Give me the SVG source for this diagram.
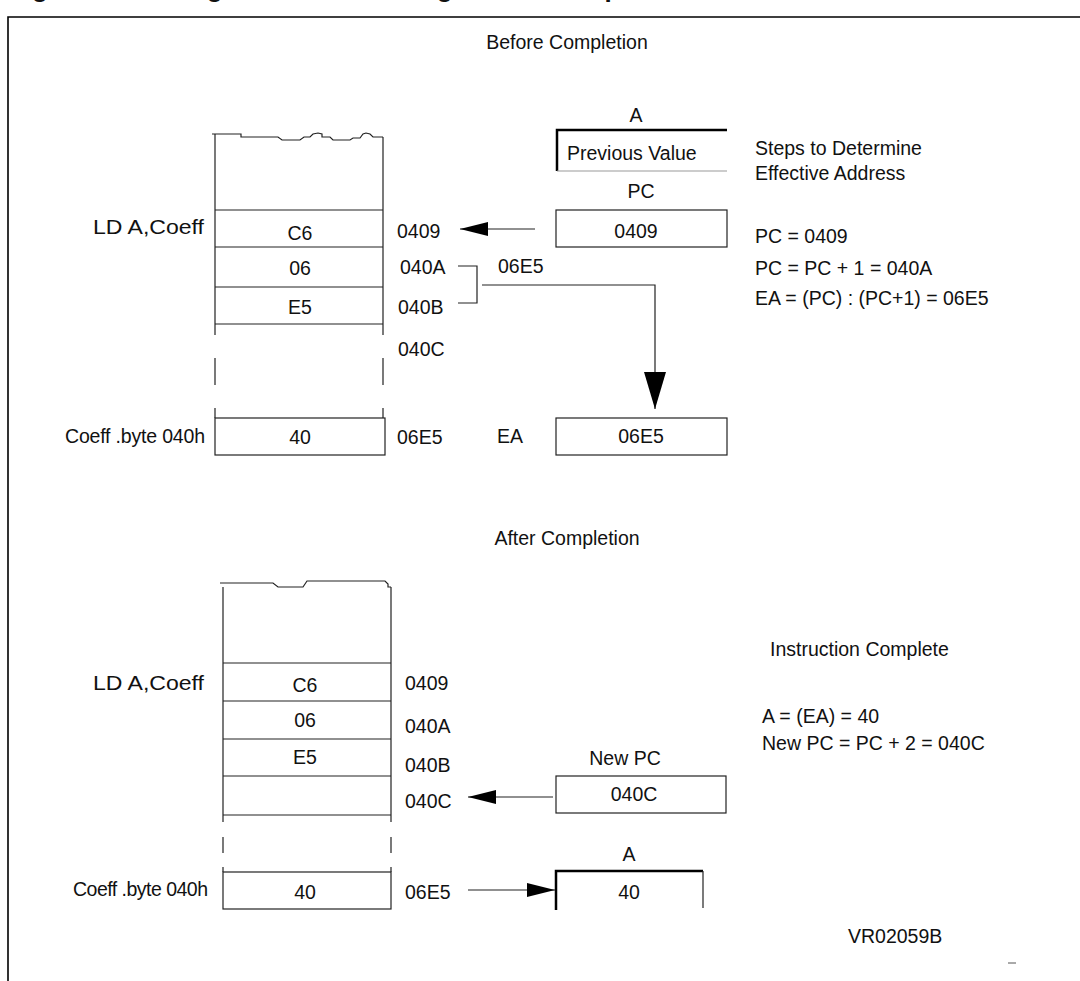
<svg xmlns="http://www.w3.org/2000/svg" width="1080" height="981" viewBox="0 0 1080 981">
<style>
text{font-family:"Liberation Sans",Arial,sans-serif;font-size:19.5px;fill:#111}
.t{font-weight:bold;font-size:26px}
.c{text-anchor:middle}
.ln{stroke:#222;stroke-width:1.2;fill:none}
.thk{stroke:#000;stroke-width:2.5;fill:none}
.gr{stroke:#999;stroke-width:1;fill:none}
</style>
<defs>
<marker id="arr" markerUnits="userSpaceOnUse" viewBox="0 0 28 14" refX="28" refY="7" markerWidth="28" markerHeight="14" orient="auto"><path d="M0,0 L28,7 L0,14 z" fill="#000"/></marker>
<marker id="arrBig" markerUnits="userSpaceOnUse" viewBox="0 0 37 22" refX="37" refY="11" markerWidth="37" markerHeight="22" orient="auto"><path d="M0,0 L37,11 L0,22 z" fill="#000"/></marker>
</defs>
<rect width="1080" height="981" fill="#fff"/>
<text class="t" x="9" y="-3">Figure</text>
<text class="t" x="159" y="-3">Long Direct Addressing Mode Example</text>
<path d="M8,981 V17 H1080" stroke="#000" stroke-width="1.6" fill="none"/>
<text class="c" x="567" y="49">Before Completion</text>
<text class="c" x="567" y="545">After Completion</text>

<g id="mem-before">
<path class="ln" d="M212,134 H241 V137 H278 L282,140 H300 L304,137 H310 L313,134 L318,133 L322,134 V137 H330 L333,140 H350 L353,138 H360 L363,134 L366,133 L370,134 L373,137 H383"/>
<path class="ln" d="M215,134 V335 M215,358 V385 M215,408 V418 M383,137 V335 M383,358 V385 M383,408 V418 M215,210 H383 M215,247 H383 M215,287 H383 M215,324 H383"/>
<rect class="ln" x="215" y="418" width="170" height="37"/>
<text class="c" x="300" y="240">C6</text>
<text class="c" x="300" y="275">06</text>
<text class="c" x="300" y="314">E5</text>
<text class="c" x="300" y="444">40</text>
<text x="93" y="234" textLength="111" lengthAdjust="spacingAndGlyphs">LD A,Coeff</text>
<text x="65" y="443" textLength="140" lengthAdjust="spacing">Coeff .byte 040h</text>
<text x="397" y="238">0409</text>
<text x="400" y="274">040A</text>
<text x="398" y="314">040B</text>
<text x="398" y="356">040C</text>
<text x="397" y="444">06E5</text>
<text x="498" y="273">06E5</text>
</g>

<g id="reg-a-before">
<text class="c" x="636" y="122">A</text>
<path class="thk" d="M557,171 V130 H727"/>
<path class="gr" d="M557,171 H727"/>
<text x="567" y="160">Previous Value</text>
</g>
<g id="reg-pc-before">
<text class="c" x="641" y="198">PC</text>
<rect class="ln" x="556" y="210" width="171" height="37"/>
<text class="c" x="636" y="238">0409</text>
</g>
<g id="reg-ea">
<text x="497" y="443">EA</text>
<rect class="ln" x="556" y="418" width="171" height="37"/>
<text class="c" x="641" y="443">06E5</text>
</g>
<g id="steps">
<text x="755" y="155">Steps to Determine</text>
<text x="755" y="180">Effective Address</text>
<text x="755" y="243">PC = 0409</text>
<text x="755" y="275">PC = PC + 1 = 040A</text>
<text x="755" y="305">EA = (PC) : (PC+1) = 06E5</text>
</g>

<g id="mem-after">
<path class="ln" d="M220,583 H273 L278,587 H303 L307,581 H385 L388,584 V587 H391"/>
<path class="ln" d="M223,587 V822 M223,837 V853 M223,867 V872 M391,587 V822 M391,837 V853 M391,867 V872 M223,663 H391 M223,701 H391 M223,739 H391 M223,776 H391 M223,815 H391"/>
<rect class="ln" x="223" y="872" width="168" height="37"/>
<text class="c" x="305" y="692">C6</text>
<text class="c" x="305" y="727">06</text>
<text class="c" x="305" y="764">E5</text>
<text class="c" x="305" y="899">40</text>
<text x="93" y="690" textLength="111" lengthAdjust="spacingAndGlyphs">LD A,Coeff</text>
<text x="73" y="896" textLength="135" lengthAdjust="spacing">Coeff .byte 040h</text>
<text x="405" y="690">0409</text>
<text x="405" y="733">040A</text>
<text x="405" y="772">040B</text>
<text x="405" y="808">040C</text>
<text x="405" y="899">06E5</text>
</g>
<g id="reg-newpc">
<text class="c" x="625" y="765">New PC</text>
<rect class="ln" x="556" y="776" width="170" height="37"/>
<text class="c" x="634" y="801">040C</text>
</g>
<g id="reg-a-after">
<text class="c" x="629" y="861">A</text>
<path class="thk" d="M556,910 V871 H703"/>
<path class="ln" d="M703,871 V908"/>
<text class="c" x="629" y="899">40</text>
</g>
<g id="complete">
<text x="770" y="656">Instruction Complete</text>
<text x="762" y="723">A = (EA) = 40</text>
<text x="762" y="750">New PC = PC + 2 = 040C</text>
</g>
<text x="848" y="943">VR02059B</text>
<path d="M1008,963 H1016" stroke="#555" stroke-width="1"/>

<g id="connectors">
<path class="ln" d="M535,229 H460" marker-end="url(#arr)"/>
<path class="ln" d="M458,266 H477 V303 H458"/>
<path class="ln" d="M482,285 H655 V409" marker-end="url(#arrBig)"/>
<path class="ln" d="M553,797 H468" marker-end="url(#arr)"/>
<path class="ln" d="M468,890 H555" marker-end="url(#arr)"/>
</g>
</svg>
